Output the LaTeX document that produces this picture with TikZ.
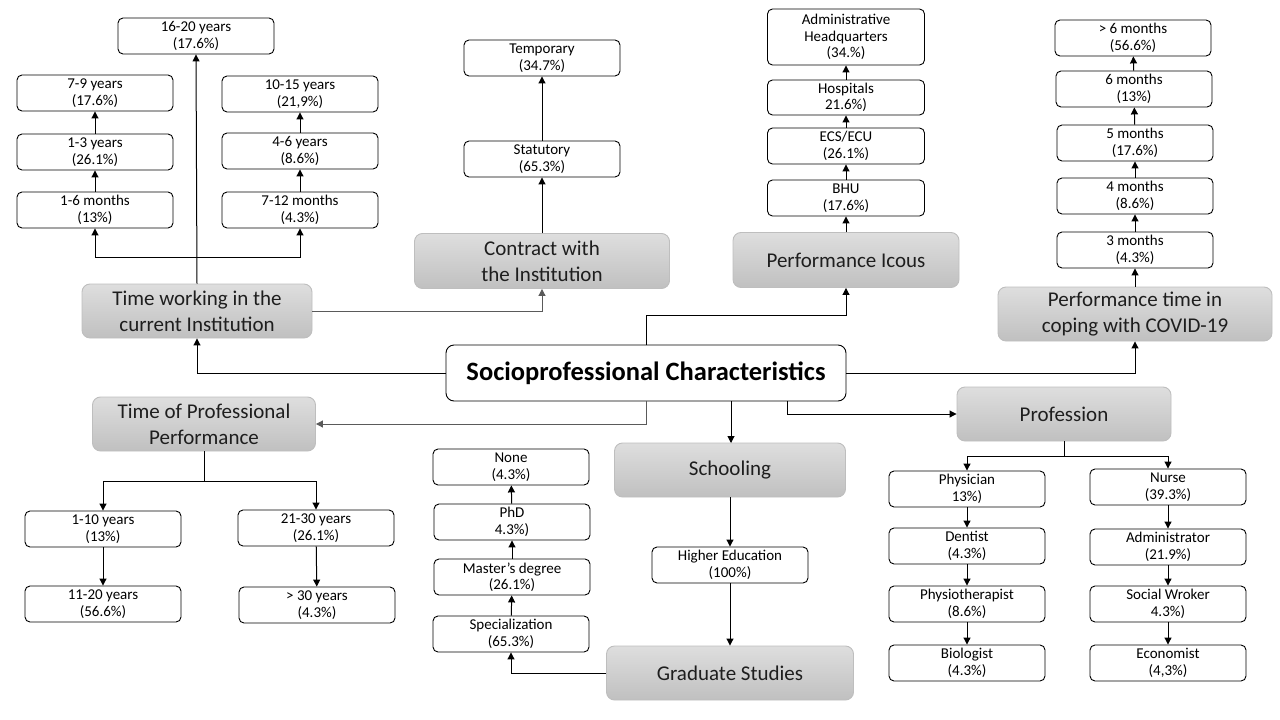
\documentclass[tikz,border=0pt]{standalone}
\usepackage{fontspec}
\setmainfont{Carlito}
\usetikzlibrary{arrows.meta}
\definecolor{gtop}{RGB}{222,222,222}
\definecolor{gbot}{RGB}{192,192,192}
\definecolor{gline}{RGB}{190,190,190}
\definecolor{cline}{RGB}{90,90,90}
\definecolor{gtext}{RGB}{30,30,30}
\begin{document}
\begin{tikzpicture}[x=1pt,y=-1pt,
  sbox/.style={draw, line width=0.9pt, rounded corners=5, fill=white, minimum width=156, minimum height=36, align=center, font=\fontsize{15}{16.5}\selectfont, inner sep=0},
  gbox/.style={draw=gline, line width=0.9pt, rounded corners=8, top color=gtop, bottom color=gbot, align=center, font=\fontsize{21}{26}\selectfont, text=gtext, inner sep=0},
  arr/.style={-{Triangle[width=7pt,length=7pt]}, line width=1pt},
  ln/.style={line width=1pt}]
\useasboundingbox (0,0) rectangle (1280,720);

% central
\node[draw, line width=0.9pt, rounded corners=8, fill=white, minimum width=400, minimum height=56, inner sep=0, font=\fontsize{26.5}{30}\selectfont\bfseries] (c) at (646,373) {Socioprofessional Characteristics};

% Time working
\node[gbox, minimum width=230, minimum height=54] (tw) at (197,311) {Time working in the\\current Institution};
\node[sbox] (t1620) at (196,36) {16-20 years\\(17.6\%)};
\node[sbox] (t79) at (95,93) {7-9 years\\(17.6\%)};
\node[sbox] (t13) at (95,152) {1-3 years\\(26.1\%)};
\node[sbox] (t16m) at (95,210) {1-6 months\\(13\%)};
\node[sbox] (t1015) at (300,94) {10-15 years\\(21,9\%)};
\node[sbox] (t46) at (300,151) {4-6 years\\(8.6\%)};
\node[sbox] (t712m) at (300,210) {7-12 months\\(4.3\%)};
\coordinate (j1) at (197,257);
\draw[arr] (tw.north) -- (t1620.south);
\draw[arr] (j1) -| (t16m.south);
\draw[arr] (j1) -| (t712m.south);
\draw[arr] (t16m) -- (t13);
\draw[arr] (t13) -- (t79);
\draw[arr] (t712m) -- (t46);
\draw[arr] (t46) -- (t1015);

% Contract
\node[gbox, minimum width=255, minimum height=55] (ct) at (542,261) {Contract with\\the Institution};
\node[sbox] (stat) at (542,159) {Statutory\\(65.3\%)};
\node[sbox] (temp) at (542,58) {Temporary\\(34.7\%)};
\draw[arr, draw=cline] (tw.east) -| (ct.south);
\draw[arr] (ct) -- (stat);
\draw[arr] (stat) -- (temp);

% Performance Icous
\node[gbox, minimum width=226, minimum height=55] (pi) at (846,260) {Performance Icous};
\node[sbox, minimum width=157] (bhu) at (846,198) {BHU\\(17.6\%)};
\node[sbox, minimum width=157] (ecs) at (846,146) {ECS/ECU\\(26.1\%)};
\node[sbox, minimum width=157, minimum height=35] (hosp) at (846,97.5) {Hospitals\\21.6\%)};
\node[sbox, minimum width=157, minimum height=56] (adm) at (846,37) {Administrative\\Headquarters\\(34.\%)};
\draw[arr] (pi) -- (bhu);
\draw[arr] (bhu) -- (ecs);
\draw[arr] (ecs) -- (hosp);
\draw[arr] (hosp) -- (adm);
\coordinate (cn) at (646,345);
\draw[arr] (cn) -- (646,315) -| (pi.south);

% COVID
\node[gbox, minimum width=274, minimum height=54] (cov) at (1135,314) {Performance time in\\coping with COVID-19};
\node[sbox] (m3) at (1135,250) {3 months\\(4.3\%)};
\node[sbox] (m4) at (1135,196) {4 months\\(8.6\%)};
\node[sbox] (m5) at (1135,143) {5 months\\(17.6\%)};
\node[sbox] (m6) at (1134,89) {6 months\\(13\%)};
\node[sbox] (m7) at (1133,38) {> 6 months\\(56.6\%)};
\draw[arr] (cov) -- (m3);
\draw[arr] (m3) -- (m4);
\draw[arr] (m4) -- (m5);
\draw[arr] (m5) -- (m6);
\draw[arr] (m6) -- (m7);
\draw[arr] (c.east) -| (cov.south);
\draw[arr] (c.west) -| (tw.south);

% Time of Professional Performance
\node[gbox, minimum width=223, minimum height=54] (tpp) at (204,424) {Time of Professional\\Performance};
\node[sbox] (p110) at (103,529) {1-10 years\\(13\%)};
\node[sbox] (p1120) at (103,604) {11-20 years\\(56.6\%)};
\node[sbox] (p2130) at (316,528) {21-30 years\\(26.1\%)};
\node[sbox] (p30) at (317,605) {> 30 years\\(4.3\%)};
\coordinate (cb1) at (646,401);
\draw[arr, draw=cline] (cb1) |- (tpp.east);
\coordinate (j2) at (204,481);
\draw[ln] (tpp.south) -- (j2);
\draw[arr] (j2) -| (p110.north);
\draw[arr] (j2) -| (p2130.north);
\draw[arr] (p110) -- (p1120);
\draw[arr] (p2130) -- (p30);

% Schooling
\node[gbox, minimum width=231, minimum height=54] (sch) at (730,470) {Schooling};
\node[sbox] (he) at (730,565) {Higher Education\\(100\%)};
\node[gbox, minimum width=247, minimum height=54] (gs) at (730,673) {Graduate Studies};
\coordinate (cb3) at (731,401);
\draw[arr] (cb3) -- (731,443);
\draw[arr] (sch) -- (he);
\draw[arr] (he) -- (gs);
\node[sbox] (spec) at (511,634) {Specialization\\(65.3\%)};
\node[sbox] (mast) at (512,577) {Master’s degree\\(26.1\%)};
\node[sbox] (phd) at (512,522) {PhD\\4.3\%)};
\node[sbox] (none) at (511,467) {None\\(4.3\%)};
\draw[arr] (gs.west) -| (spec.south);
\draw[arr] (spec) -- (mast);
\draw[arr] (mast) -- (phd);
\draw[arr] (phd) -- (none);

% Profession
\node[gbox, minimum width=214, minimum height=54] (prof) at (1064,414) {Profession};
\coordinate (cb2) at (787,401);
\draw[arr] (cb2) |- (prof.west);
\node[sbox] (phy) at (967,489) {Physician\\13\%)};
\node[sbox] (den) at (967,546) {Dentist\\(4.3\%)};
\node[sbox] (phys) at (967,604) {Physiotherapist\\(8.6\%)};
\node[sbox] (bio) at (967,663) {Biologist\\(4.3\%)};
\node[sbox] (nur) at (1168,487) {Nurse\\(39.3\%)};
\node[sbox] (admr) at (1168,547) {Administrator\\(21.9\%)};
\node[sbox] (soc) at (1168,604) {Social Wroker\\4.3\%)};
\node[sbox] (eco) at (1168,663) {Economist\\(4,3\%)};
\coordinate (j3) at (1064,456);
\draw[ln] (prof.south) -- (j3);
\draw[arr] (j3) -| (phy.north);
\draw[arr] (j3) -| (nur.north);
\draw[arr] (phy) -- (den);
\draw[arr] (den) -- (phys);
\draw[arr] (phys) -- (bio);
\draw[arr] (nur) -- (admr);
\draw[arr] (admr) -- (soc);
\draw[arr] (soc) -- (eco);
\end{tikzpicture}
\end{document}
